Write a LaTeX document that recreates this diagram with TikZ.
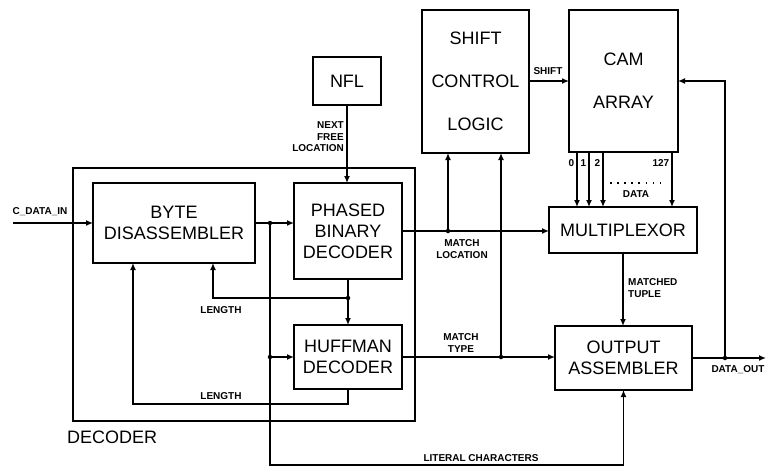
\documentclass[tikz,border=0pt]{standalone}
\usepackage{fontspec}
\setmainfont{Liberation Sans}
\usetikzlibrary{arrows.meta,calc}
\begin{document}
\begin{tikzpicture}[x=1pt,y=-1pt,
  blk/.style={draw,line width=2.2pt,inner sep=0pt,outer sep=0pt,anchor=north west,font=\fontsize{18}{21}\selectfont,align=center},
  wire/.style={line width=1.6pt},
  arr/.style={wire,-{Latex[length=7pt,width=6pt]}},
  lbl/.style={font=\bfseries\fontsize{10}{11.5}\selectfont,inner sep=0pt,align=center},
  jdot/.style={circle,fill,inner sep=0pt,minimum size=4.5pt}]
\useasboundingbox (0,0) rectangle (766,467);
% decoder group
\node[draw,line width=1.5pt,inner sep=0pt,anchor=north west,minimum width=342pt,minimum height=253pt] (dec) at (72,167) {};
\node[font=\fontsize{18}{20}\selectfont,anchor=west,inner sep=0pt] (declbl) at (67,437) {DECODER};
% blocks
\node[blk,minimum width=162pt,minimum height=80pt] (byte) at (93,183) {BYTE\\DISASSEMBLER};
\node[blk,minimum width=108pt,minimum height=96pt] (pbd) at (294,183) {PHASED\\BINARY\\DECODER};
\node[blk,minimum width=108pt,minimum height=64pt] (huff) at (294,325) {HUFFMAN\\DECODER};
\node[blk,minimum width=68pt,minimum height=48pt] (nfl) at (313,57) {NFL};
\node[blk,minimum width=107pt,minimum height=143pt,font=\fontsize{18}{43}\selectfont] (scl) at (422,10) {SHIFT\\CONTROL\\LOGIC};
\node[blk,minimum width=109pt,minimum height=142pt,font=\fontsize{18}{43}\selectfont] (cam) at (569,10) {CAM\\ARRAY};
\node[blk,minimum width=148pt,minimum height=46pt] (mux) at (549,207) {MULTIPLEXOR};
\node[blk,minimum width=137pt,minimum height=64pt] (oa) at (555,326) {OUTPUT\\ASSEMBLER};
% coordinates
\coordinate (cin) at (13,223);
\coordinate (j1) at (270,223);
\coordinate (lit) at (270,465);
\coordinate (j3) at ($(pbd.south)+(0,19)$);
\coordinate (j4) at (448,231);
\coordinate (j5) at (501,357);
\coordinate (fb) at (725,81);
\coordinate (dout) at (766,358);
% connectors
\draw[arr] (cin) -- (byte.west);
\draw[arr] (byte.east) -- (byte.east -| pbd.west);
\draw[arr] (j1) -- (lit) -| (oa.south);
\draw[arr] (j1 |- huff.west) -- (huff.west);
\draw[arr] (pbd.south) -- (huff.north);
\draw[arr] (j3) -| ([xshift=120pt]byte.south west);
\draw[arr] (huff.south) -- ++(0,15) -| ([xshift=40pt]byte.south west);
\draw[arr] (nfl.south) -- (nfl.south |- pbd.north);
\draw[arr] (pbd.east |- j4) -- (j4 -| mux.west);
\draw[arr] (j4) -- (j4 |- scl.south);
\draw[arr] (huff.east |- j5) -- (j5 -| oa.west);
\draw[arr] (j5) -- (j5 |- scl.south);
\draw[arr] (scl.east |- cam.west) -- (cam.west);
\foreach \dx/\t in {8/0,20/1,34/2,103/127}{
  \coordinate (t\t) at ($(cam.south west)+(\dx,0)$);
  \draw[arr] (t\t) -- (t\t |- mux.north);
  \node[lbl,anchor=east] at ($(t\t)+(-2.5,11)$) {\t};
}
\draw[line width=1.6pt,dash pattern=on 1.6pt off 5.5pt] (610,183) -- (662,183);
\draw[arr] (mux.south) -- (mux.south |- oa.north);
\draw[arr] (oa.east |- dout) -- (dout);
\draw[arr] (fb |- dout) -- (fb) -- (cam.east |- fb);
% junction dots
\foreach \p in {j1,j3,j4,j5}{\node[jdot] at (\p) {};}
\node[jdot] at (j1 |- huff.west) {};
\node[jdot] at (fb |- dout) {};
% labels
\node[lbl] at (40,212) {C\_DATA\_IN};
\node[lbl] at (221,310) {LENGTH};
\node[lbl] at (221,396) {LENGTH};
\node[lbl,anchor=east,align=right] at (344,137) {NEXT\\FREE\\LOCATION};
\node[lbl] at (462,249) {MATCH\\LOCATION};
\node[lbl] at (461,343) {MATCH\\TYPE};
\node[lbl] at (548,71) {SHIFT};
\node[lbl] at (636,194) {DATA};
\node[lbl,anchor=west,align=left] at (628,288) {MATCHED\\TUPLE};
\node[lbl] at (738,370) {DATA\_OUT};
\node[lbl] at (481,458) {LITERAL CHARACTERS};
\end{tikzpicture}
\end{document}
